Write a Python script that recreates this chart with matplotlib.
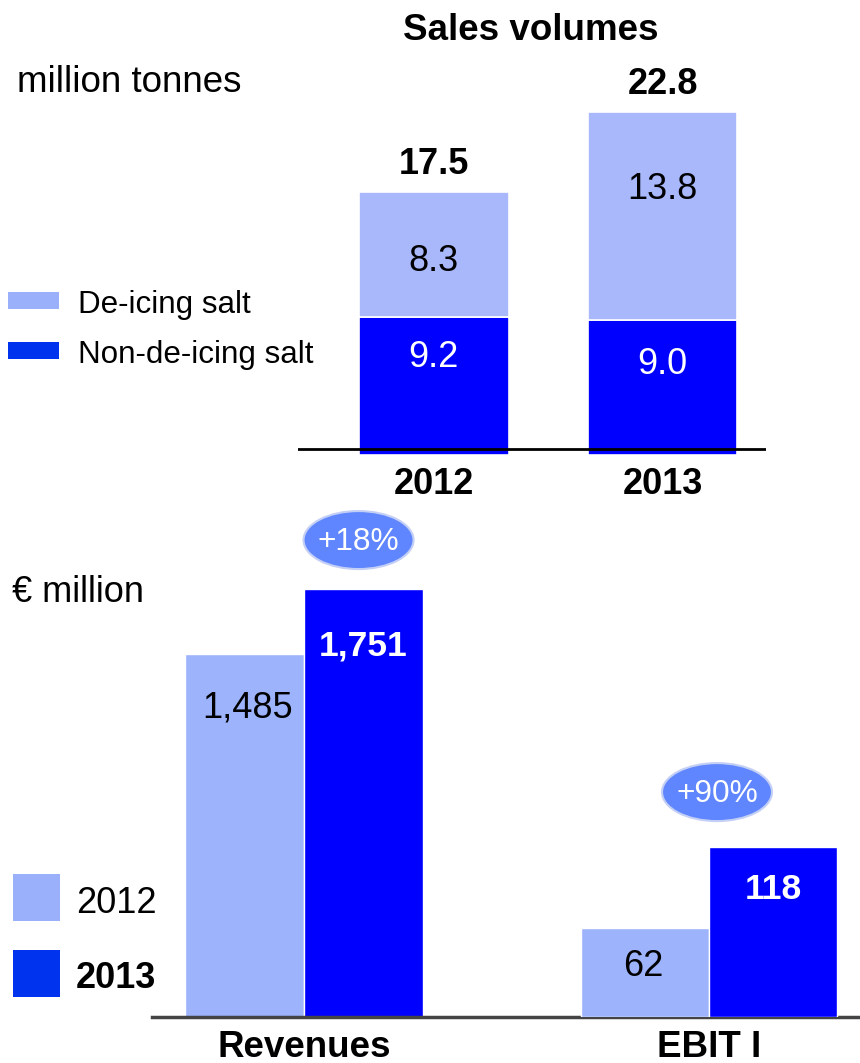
import matplotlib
matplotlib.use("Agg")
import matplotlib.pyplot as plt
from matplotlib.patches import Rectangle, Ellipse
from matplotlib.transforms import IdentityTransform

plt.rcParams['font.family'] = ['Liberation Sans', 'DejaVu Sans']

# Sales volumes, million tonnes
years = ["2012", "2013"]
non_deicing = [9.2, 9.0]
deicing = [8.3, 13.8]
segment_names = ["De-icing salt", "Non-de-icing salt"]

# Key financials, EUR million
metrics = ["Revenues", "EBIT I"]
values_2012 = [1485, 62]
values_2013 = [1751, 118]
growth = ["+18%", "+90%"]

W, H, DPI = 860, 1063, 100
fig = plt.figure(figsize=(W / DPI, H / DPI), dpi=DPI)

LIGHT_TOP = "#A9B8FA"
LIGHT = "#9DB3FC"
DARK = "#0000FF"
SWATCH_LIGHT = "#9BB0FA"
SWATCH_DARK = "#0033EE"
OVAL = "#5F86FE"
OVAL_EDGE = "#C4CFF6"


def box(left, top, right, bottom):
    return [left / W, 1 - bottom / H, (right - left) / W, (bottom - top) / H]


def ftext(x, y, s, **kw):
    kw.setdefault("va", "baseline")
    fig.text(x / W, 1 - y / H, s, **kw)


def swatch(x0, y0, x1, y1, color):
    fig.add_artist(Rectangle((x0 / W, 1 - y1 / H), (x1 - x0) / W, (y1 - y0) / H,
                             transform=fig.transFigure, facecolor=color,
                             edgecolor="none"))


# ---------------- Sales volumes (stacked) ----------------
ax1 = fig.add_axes(box(298, 100, 766, 455))
xs = list(range(len(years)))
bw = 0.655
ax1.bar(xs, non_deicing, width=bw, color=DARK, edgecolor="white", linewidth=1.2)
ax1.bar(xs, deicing, width=bw, bottom=non_deicing, color=LIGHT_TOP,
        edgecolor="white", linewidth=1.2)
ax1.set_xlim(-0.592, 1.452)
ax1.set_ylim(0, 355 / 15.05)
ax1.axis("off")
ax1.axhline(0.4, color="black", lw=2, zorder=5)

light_drop = [79, 87]
dark_drop = [50, 54]
for i in xs:
    total = round(non_deicing[i] + deicing[i], 1)
    ax1.annotate(f"{total:.1f}", (i, total), xytext=(0, 18),
                 textcoords="offset pixels", ha="center", va="baseline",
                 fontsize=26, fontweight="bold", annotation_clip=False)
    ax1.annotate(f"{deicing[i]:.1f}", (i, total), xytext=(0, -light_drop[i]),
                 textcoords="offset pixels", ha="center", va="baseline",
                 fontsize=26, color="black")
    ax1.annotate(f"{non_deicing[i]:.1f}", (i, non_deicing[i]),
                 xytext=(0, -dark_drop[i]), textcoords="offset pixels",
                 ha="center", va="baseline", fontsize=26, color="white")
    ax1.annotate(years[i], (i, 0), xytext=(0, -39), textcoords="offset pixels",
                 ha="center", va="baseline", fontsize=26, fontweight="bold",
                 annotation_clip=False)

ftext(531, 40, "Sales volumes", ha="center", fontsize=26.5, fontweight="bold")
ftext(17, 92, "million tonnes", fontsize=26.5)

swatch(8, 292, 59, 309, SWATCH_LIGHT)
swatch(8, 342, 59, 359, SWATCH_DARK)
ftext(78, 313, segment_names[0], fontsize=22.6)
ftext(78, 363, segment_names[1], fontsize=22.6)

# ---------------- Revenues and EBIT I ----------------
ax_rev = fig.add_axes(box(152, 500, 860, 1017))
ax_ebit = ax_rev.twinx()
group_axes = [ax_rev, ax_ebit]
group_width = [0.294, 0.316]
ax_rev.set_ylim(0, 517 / 0.2444)
ax_ebit.set_ylim(0, 517 / 1.44)
for a in group_axes:
    a.set_xlim(-0.3753, 1.3728)
    a.axis("off")

drop_2012 = [63, 48]
drop_2013 = [66, 52]
shift_2012 = [3, -2]
oval_offset = [(-5, 49), (-56, 55)]
oval_size = (110, 58)

ovals = []
for g, a in enumerate(group_axes):
    w = group_width[g]
    x12, x13 = g - w / 2, g + w / 2
    a.bar([x12], [values_2012[g]], width=w, color=LIGHT, edgecolor="white",
          linewidth=1)
    a.bar([x13], [values_2013[g]], width=w, color=DARK, edgecolor="white",
          linewidth=1)
    a.annotate(f"{values_2012[g]:,}", (x12, values_2012[g]),
               xytext=(shift_2012[g], -drop_2012[g]), textcoords="offset pixels",
               ha="center", va="baseline", fontsize=26, color="black")
    a.annotate(f"{values_2013[g]:,}", (x13, values_2013[g]),
               xytext=(0, -drop_2013[g]), textcoords="offset pixels",
               ha="center", va="baseline", fontsize=25.5, fontweight="bold",
               color="white")
    ovals.append((a, x13, values_2013[g]))

ax_rev.axhline(0, color="#444444", lw=2.5, zorder=5, clip_on=False)
for g in range(len(metrics)):
    ax_rev.annotate(metrics[g], (g, 0), xytext=(0, -40), textcoords="offset pixels",
                    ha="center", va="baseline", fontsize=26.5, fontweight="bold",
                    annotation_clip=False)

# growth ovals above the 2013 bars
for g, (a, xb, v) in enumerate(ovals):
    px, py = a.transData.transform((xb, v))
    dx, dy = oval_offset[g]
    cx, cy = px + dx, py + dy
    fig.add_artist(Ellipse((cx, cy), oval_size[0], oval_size[1],
                           transform=IdentityTransform(), facecolor=OVAL,
                           edgecolor=OVAL_EDGE, linewidth=1.5, zorder=2))
    fig.text(cx, cy - 10, growth[g], transform=IdentityTransform(),
             ha="center", va="baseline", fontsize=22.8, color="white", zorder=4)

ftext(12, 602, "\u20ac million", fontsize=26)

swatch(13, 874, 60, 921, SWATCH_LIGHT)
swatch(13, 950, 60, 997, SWATCH_DARK)
ftext(76, 913, "2012", fontsize=26)
ftext(76, 988, "2013", fontsize=26, fontweight="bold")

fig.savefig("out.png", dpi=DPI)
